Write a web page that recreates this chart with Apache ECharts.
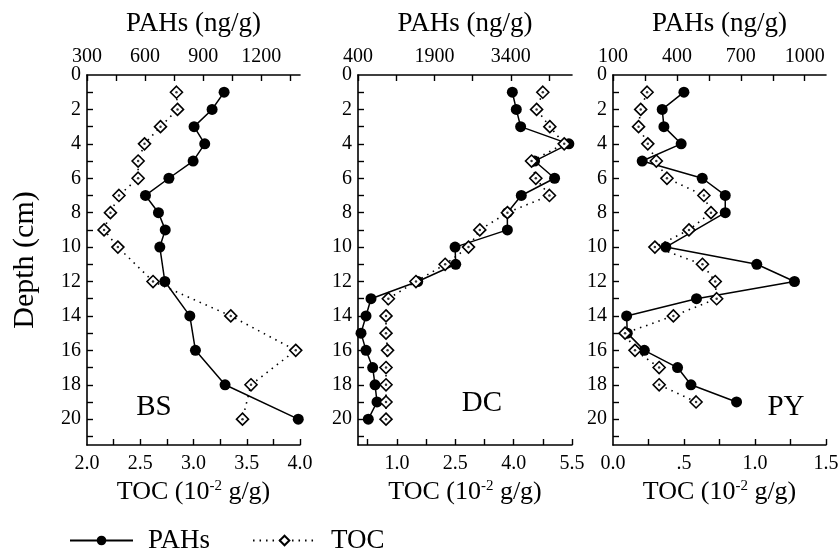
<!DOCTYPE html>
<html>
<head>
<meta charset="utf-8">
<script src="https://cdn.jsdelivr.net/npm/echarts@6/dist/echarts.min.js"></script>
<style>
  html, body { margin: 0; padding: 0; background: #fff; }
  #chart { width: 838px; height: 553px; }
</style>
</head>
<body>
<div id="chart"></div>
<script>
// BS core
const bsPahDepth = [1, 2, 3, 4, 5, 6, 7, 8, 9, 10, 12, 14, 16, 18, 20];
const bsPah = [1008, 946, 853, 908, 848, 723, 602, 669, 704, 676, 702, 831, 860, 1013, 1391];
const bsTocDepth = [1, 2, 3, 4, 5, 6, 7, 8, 9, 10, 12, 14, 16, 18, 20];
const bsToc = [2.84, 2.85, 2.69, 2.54, 2.48, 2.48, 2.30, 2.22, 2.16, 2.29, 2.62, 3.35, 3.96, 3.54, 3.46];

// DC core
const dcPahDepth = [1, 2, 3, 4, 5, 6, 7, 8, 9, 10, 11, 12, 13, 14, 15, 16, 17, 18, 19, 20];
const dcPah = [3429, 3507, 3592, 4538, 3866, 4258, 3605, 3331, 3332, 2305, 2318, 1572, 655, 557, 459, 557, 688, 734, 773, 602];
const dcTocDepth = [1, 2, 3, 4, 5, 6, 7, 8, 9, 10, 11, 12, 13, 14, 15, 16, 17, 18, 19, 20];
const dcToc = [4.75, 4.59, 4.93, 5.30, 4.46, 4.57, 4.92, 3.84, 3.13, 2.84, 2.24, 1.49, 0.78, 0.72, 0.72, 0.76, 0.72, 0.72, 0.72, 0.72];

// PY core
const pyPahDepth = [1, 2, 3, 4, 5, 6, 7, 8, 10, 11, 12, 13, 14, 15, 16, 17, 18, 19];
const pyPah = [433, 331, 339, 420, 237, 519, 627, 627, 348, 775, 952, 492, 164, 167, 247, 403, 466, 680];
const pyTocDepth = [1, 2, 3, 4, 5, 6, 7, 8, 9, 10, 11, 12, 13, 14, 15, 16, 17, 18, 19];
const pyToc = [0.24, 0.195, 0.18, 0.245, 0.305, 0.38, 0.64, 0.69, 0.535, 0.295, 0.63, 0.72, 0.73, 0.425, 0.085, 0.155, 0.325, 0.325, 0.585];

// axis ticks and labels
const depthTicks = [1, 2, 3, 4, 5, 6, 7, 8, 9, 10, 11, 12, 13, 14, 15, 16, 17, 18, 19, 20, 21];
const depthLabels = [0, 2, 4, 6, 8, 10, 12, 14, 16, 18, 20];

const bsPahTicks = [300, 450, 600, 750, 900, 1050, 1200, 1350];
const bsPahLabels = [300, 600, 900, 1200];
const bsTocTicks = [2.25, 2.5, 2.75, 3, 3.25, 3.5, 3.75, 4];
const bsTocLabels = [2, 2.5, 3, 3.5, 4];

const dcPahTicks = [400, 1150, 1900, 2650, 3400, 4150];
const dcPahLabels = [400, 1900, 3400];
const dcTocTicks = [0.25, 1, 1.75, 2.5, 3.25, 4, 4.75, 5.5];
const dcTocLabels = [1, 2.5, 4, 5.5];

const pyPahTicks = [100, 250, 400, 550, 700, 850, 1000];
const pyPahLabels = [100, 400, 700, 1000];
const pyTocTicks = [0.25, 0.5, 0.75, 1, 1.25, 1.5];
const pyTocLabels = [0, 0.5, 1, 1.5];

const FONT = 'Liberation Serif';

const zip = (xs, ys) => xs.map((x, i) => [x, ys[i]]);

const panels = [
  { name: 'BS', left: 87, width: 213, pahMin: 300, pahMax: 1400, pahTicks: bsPahTicks, pahLabels: bsPahLabels,
    tocMin: 2, tocMax: 4, tocTicks: bsTocTicks, tocLabels: bsTocLabels, tocFmt: v => v.toFixed(1),
    pah: zip(bsPah, bsPahDepth), toc: zip(bsToc, bsTocDepth), labelPos: [154, 407] },
  { name: 'DC', left: 358, width: 214, pahMin: 400, pahMax: 4600, pahTicks: dcPahTicks, pahLabels: dcPahLabels,
    tocMin: 0, tocMax: 5.5, tocTicks: dcTocTicks, tocLabels: dcTocLabels, tocFmt: v => v.toFixed(1),
    pah: zip(dcPah, dcPahDepth), toc: zip(dcToc, dcTocDepth), labelPos: [482, 403] },
  { name: 'PY', left: 613, width: 213, pahMin: 100, pahMax: 1100, pahTicks: pyPahTicks, pahLabels: pyPahLabels,
    tocMin: 0, tocMax: 1.5, tocTicks: pyTocTicks, tocLabels: pyTocLabels,
    tocFmt: v => (v === 0.5 ? '.5' : v.toFixed(1)),
    pah: zip(pyPah, pyPahDepth), toc: zip(pyToc, pyTocDepth), labelPos: [786, 407] }
];

const axisLine = { show: true, onZero: false, lineStyle: { color: '#000', width: 1.6 } };
const tickStyle = { inside: true, length: 6, lineStyle: { color: '#000', width: 1.4 } };
const labelStyle = { color: '#000', fontFamily: FONT, fontSize: 20 };

const grid = [], xAxis = [], yAxis = [], series = [], graphic = [];

panels.forEach((p, i) => {
  grid.push({ left: p.left, top: 75, width: p.width, height: 370, containLabel: false, outerBoundsMode: 'none' });

  xAxis.push({
    type: 'value', gridIndex: i, position: 'bottom', min: p.tocMin, max: p.tocMax,
    name: 'TOC (10{sup|-2} g/g)', nameLocation: 'middle', nameGap: 34,
    nameTextStyle: { color: '#000', fontFamily: FONT, fontSize: 26,
      rich: { sup: { fontSize: 15, fontFamily: FONT, color: '#000', verticalAlign: 'top', padding: [0, 0, 10, 0] } } },
    axisLine, axisTick: { ...tickStyle, customValues: p.tocTicks },
    axisLabel: { ...labelStyle, margin: 9, customValues: p.tocLabels, formatter: p.tocFmt },
    splitLine: { show: false }
  });
  xAxis.push({
    type: 'value', gridIndex: i, position: 'top', min: p.pahMin, max: p.pahMax,
    name: 'PAHs (ng/g)', nameLocation: 'middle', nameGap: 38,
    nameTextStyle: { color: '#000', fontFamily: FONT, fontSize: 27 },
    axisLine, axisTick: { ...tickStyle, customValues: p.pahTicks },
    axisLabel: { ...labelStyle, margin: 8, customValues: p.pahLabels, formatter: v => String(v) },
    splitLine: { show: false }
  });
  yAxis.push({
    type: 'value', gridIndex: i, inverse: true, min: 0, max: 21.5,
    name: i === 0 ? 'Depth (cm)' : '', nameLocation: 'middle', nameGap: 47, nameRotate: 90,
    nameTextStyle: { color: '#000', fontFamily: FONT, fontSize: 30 },
    axisLine, axisTick: { ...tickStyle, customValues: depthTicks },
    axisLabel: { ...labelStyle, margin: 6, customValues: depthLabels, formatter: v => String(v) },
    splitLine: { show: false }
  });

  series.push({
    name: 'PAHs', type: 'line', xAxisIndex: 2 * i + 1, yAxisIndex: i, data: p.pah,
    symbol: 'circle', symbolSize: 11, itemStyle: { color: '#000' },
    lineStyle: { color: '#000', width: 1.5 }, z: 3, animation: false
  });
  series.push({
    name: 'TOC', type: 'line', xAxisIndex: 2 * i, yAxisIndex: i, data: p.toc,
    symbol: 'diamond', symbolSize: 12,
    itemStyle: { color: '#fff', borderColor: '#000', borderWidth: 1.6 },
    lineStyle: { color: '#000', width: 1.6, type: [1.5, 5] }, z: 4, animation: false
  });
  series.push({
    name: 'TOC centre', type: 'scatter', xAxisIndex: 2 * i, yAxisIndex: i, data: p.toc,
    symbol: 'circle', symbolSize: 2.5, itemStyle: { color: '#000' }, z: 5, silent: true, animation: false
  });

  graphic.push({
    type: 'text', x: p.labelPos[0], y: p.labelPos[1],
    style: { text: p.name, fontFamily: FONT, fontSize: 29, fill: '#000', align: 'center', verticalAlign: 'middle' }
  });
});

const chart = echarts.init(document.getElementById('chart'), null, { renderer: 'canvas' });
chart.setOption({
  backgroundColor: '#fff',
  animation: false,
  grid, xAxis, yAxis, series, graphic,
  legend: {
    data: ['PAHs', 'TOC'], left: 69, top: 527, padding: 0,
    itemWidth: 63, itemHeight: 12, itemGap: 42,
    textStyle: { color: '#000', fontFamily: FONT, fontSize: 27, padding: [0, 0, 0, 10] }
  }
});
</script>
</body>
</html>
